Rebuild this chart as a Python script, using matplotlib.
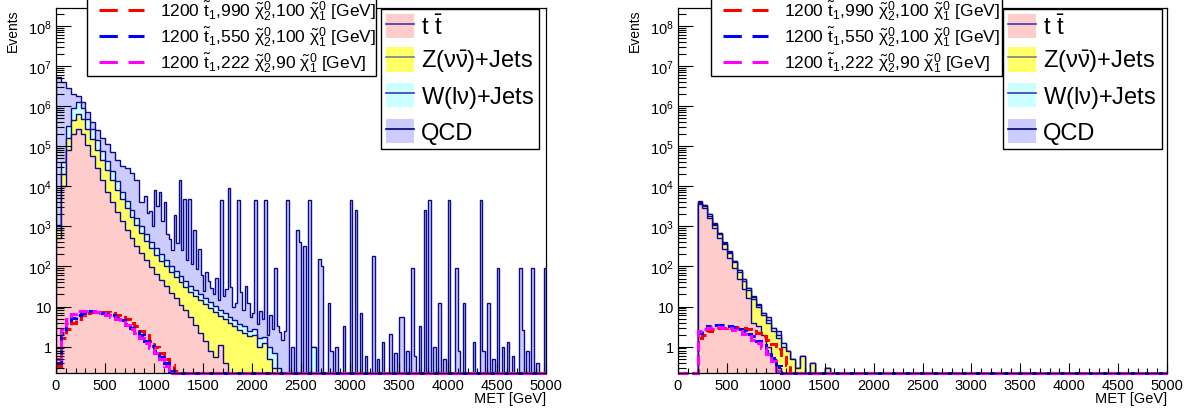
import numpy as np
import matplotlib
matplotlib.use('Agg')
import matplotlib.pyplot as plt
from matplotlib.patches import Patch
from matplotlib.lines import Line2D
from matplotlib.ticker import FixedLocator, LogLocator, MultipleLocator, NullFormatter, FuncFormatter

plt.rcParams['font.family'] = ['Liberation Sans', 'DejaVu Sans']
plt.rcParams['mathtext.fontset'] = 'custom'
plt.rcParams['mathtext.rm'] = 'Liberation Sans'
plt.rcParams['mathtext.it'] = 'Liberation Sans'
plt.rcParams['mathtext.bf'] = 'Liberation Sans:bold'
plt.rcParams['mathtext.sf'] = 'Liberation Sans'

# drawing grid: 200 bins of 25 GeV; smooth samples are given per 50 GeV
edges = np.arange(0, 5001, 25)
nbins = len(edges) - 1

# ---------------- left panel (no MET cut), 50 GeV steps from 0 ----------------
ttbar_L = [500, 1.0e4, 8.0e4, 2.0e5, 2.7e5, 2.0e5, 1.05e5, 5.6e4, 2.8e4, 1.4e4,
           7.4e3, 4.0e3, 2.3e3, 1.4e3, 830, 520, 330, 220, 145, 95,
           66, 46, 32, 22, 16, 11, 8.0, 5.6, 3.5, 2.2,
           1.4, 0.8, 0.56, 1.1, 0.4]
zjets_L = [290, 1.0e4, 7.9e4, 2.5e5, 3.8e5, 2.8e5, 1.6e5, 9.2e4, 5.3e4, 3.1e4,
           1.77e4, 1.05e4, 6.0e3, 3.4e3, 2.05e3, 1.2e3, 770, 470, 290, 187,
           129, 92, 68, 50, 38, 30, 23, 18, 15, 12.6,
           10.3, 8.5, 6.9, 4.8, 4.4, 4.0, 3.2, 2.6, 2.2, 1.8,
           2.0, 1.0, 1.26, 0.5, 0.3]
wjets_L = [300, 2.0e4, 1.6e5, 4.4e5, 6.1e5, 4.1e5, 2.2e5, 1.15e5, 6.0e4, 3.1e4,
           1.7e4, 8.9e3, 4.9e3, 2.6e3, 1.5e3, 890, 520, 310, 194, 135,
           87, 62, 41, 30, 22, 16.5, 12.7, 9.9, 7.7, 6.1,
           4.9, 3.9, 3.1, 2.4, 2.0, 1.6, 1.3, 1.1, 1.0, 0.7,
           0.8, 0.6, 0.5, 0.5, 0.4, 0.3, 0, 0, 0, 0,
           0, 0, 1.0]
qcd_L = [5.4e6, 3.96e6, 2.5e6, 1.1e6, 5.2e5, 3.7e5, 2.3e5, 1.37e5, 1.1e5, 8.2e4,
         7.0e4, 4.8e4, 3.2e4, 2.4e4, 2.4e4, 1.9e4, 1.25e4, 3.0e3]
# heavily weighted QCD events above 900 GeV (25 GeV bins)
qcd_L_spike_met = [900, 925, 950, 975, 1000, 1025, 1050, 1075, 1100, 1125,
                   1150, 1175, 1200, 1225, 1250, 1275, 1300, 1325, 1350, 1375,
                   1400, 1425, 1450, 1475, 1500, 1525, 1550, 1575, 1600, 1625,
                   1650, 1675, 1700, 1725, 1750, 1775, 1800, 1825, 1850, 1875,
                   1900, 1925, 1950, 1975, 2000, 2025, 2050, 2075, 2100, 2125,
                   2150, 2175, 2200, 2225, 2250, 2275, 2300, 2325, 2350, 2400,
                   2450, 2475, 2525, 2575, 2675, 2700, 2775, 2800,
                   2850, 2925, 3000, 3050, 3100, 3150, 3225, 3275, 3325, 3400,
                   3450, 3500, 3525, 3575, 3625, 3650, 3700, 3750, 3800, 3850,
                   3900, 3950, 4000, 4075, 4100, 4150, 4250, 4325, 4350, 4400,
                   4450, 4500, 4550, 4600, 4650, 4725, 4750, 4800, 4850, 4900,
                   4975]
qcd_L_spike_val = [5000, 1500, 2000, 600, 7600, 3000, 6800, 1200, 3900, 500,
                   370, 150, 1900, 300, 14700, 200, 4650, 100, 4650, 80,
                   800, 60, 250, 40, 8, 56, 30, 15, 10, 40,
                   6, 4650, 12, 20, 9100, 25, 5, 8, 4650, 20,
                   5, 30, 10, 3, 4, 4650, 2, 6, 3, 4650,
                   1, 5, 2, 90, 3, 2, 1.5, 2.5, 4650, 1,
                   790, 400, 320, 4650, 150, 100, 12, 0.8,
                   1.0, 3.2, 4650, 2600, 7, 0.6, 180, 0.5, 1.3, 2.1,
                   0.7, 5.6, 5.6, 0.8, 90, 0.6, 3.2, 2600, 4650, 1.0,
                   12, 0.5, 4650, 90, 0.8, 12, 1.3, 4650, 0.8, 12,
                   0.5, 90, 1.0, 1.3, 0.6, 90, 2.6, 0.8, 90, 0.4,
                   90]
sig990_L = [0.32, 1.6, 2.8, 4.0, 5.0, 6.0, 6.8, 7.2, 7.4, 7.4,
            7.2, 6.8, 6.2, 5.5, 4.8, 4.0, 3.2, 2.5, 1.9, 1.4,
            1.0, 0.71, 0.5, 0.35, 0.25, 0.16]
sig550_L = [0.4, 2.2, 4.0, 5.2, 6.3, 7.1, 7.6, 7.6, 7.4, 7.1,
            6.6, 6.0, 5.2, 4.5, 3.7, 3.0, 2.4, 1.9, 1.4, 1.05,
            0.76, 0.54, 0.38, 0.25, 0.16]
sig222_L = [0.5, 2.8, 5.0, 6.6, 7.6, 7.9, 7.9, 7.6, 7.2, 6.8,
            6.2, 5.5, 4.8, 4.1, 3.4, 2.75, 2.2, 1.66, 1.26, 0.93,
            0.68, 0.48, 0.33, 0.22, 0.14]

# ---------------- right panel (MET > 200 GeV), 50 GeV steps from 200 GeV ----------------
start_R = 200
ttbar_R = [3550, 2800, 1580, 890, 500, 280, 158, 89, 50, 28,
           16, 4.0, 3.2, 2.0, 1.0, 0.5, 0.3]
zjets_R = [250, 360, 280, 180, 130, 83, 56, 37, 24, 16,
           10, 11.8, 6.8, 4.3, 3.0, 2.0, 1.3, 1.0, 0.8, 0.5,
           0.3, 0.6, 0, 0.4, 0, 0, 0.3]
wjets_R = [300, 250, 150, 90, 55, 32, 19, 11, 7, 4,
           2.5, 1.8, 1.2, 0.8, 0.5, 0.4, 0.3, 0.2]
qcd_R = [200, 100, 50, 30, 15, 10, 5, 3, 2, 1.5,
         1.0, 0.8, 0.5, 0, 1.0, 0, 0.5]
sig990_R = [1.6, 2.0, 2.4, 2.7, 2.9, 3.0, 3.1, 3.1, 3.0, 2.9,
            2.7, 2.45, 2.2, 1.86, 1.5, 1.17, 0.85, 0.56, 0.35, 0.2]
sig550_R = [2.2, 2.8, 3.2, 3.4, 3.5, 3.5, 3.3, 3.1, 2.8, 2.5,
            2.1, 1.8, 1.4, 1.07, 0.8, 0.52, 0.32, 0.18]
sig222_R = [2.5, 2.8, 3.0, 3.1, 3.1, 3.0, 2.9, 2.6, 2.4, 2.1,
            1.8, 1.5, 1.2, 0.91, 0.66, 0.45, 0.25]

bkg_labels = [r't $\bar{\mathrm{t}}$', r'Z($\nu\bar{\nu}$)+Jets', r'W(l$\nu$)+Jets', 'QCD']
sig_labels = [r'1200 $\tilde{\mathrm{t}}_{1}$,990 $\tilde{\chi}^{0}_{2}$,100 $\tilde{\chi}^{0}_{1}$ [GeV]',
              r'1200 $\tilde{\mathrm{t}}_{1}$,550 $\tilde{\chi}^{0}_{2}$,100 $\tilde{\chi}^{0}_{1}$ [GeV]',
              r'1200 $\tilde{\mathrm{t}}_{1}$,222 $\tilde{\chi}^{0}_{2}$,90 $\tilde{\chi}^{0}_{1}$ [GeV]']

fill_colors = ['#ffcccc', '#ffff66', '#ccffff', '#ccccff']
legend_lines = ['#3b3bb0', '#808080', '#3b3bb0', '#000080']
edge_color = '#0a0a8c'
sig_colors = ['#ff0000', '#0000ff', '#ff00ff']
ymin, ymax = 0.22, 2.8e8


def hist50(vals, start=0):
    # place 50 GeV samples on the 25 GeV drawing grid
    h = np.zeros(nbins)
    i0 = start // 25
    h[i0:i0 + 2 * len(vals)] = np.repeat(vals, 2)
    return h


def add_spikes(h, mets, vals):
    h = h.copy()
    for m, v in zip(mets, vals):
        h[m // 25] += v
    return h


def draw_panel(ax, comps, sigs):
    stack = np.cumsum(np.array(comps), axis=0)
    # THStack style: largest sum first, each filled from the bottom
    for k in range(len(comps) - 1, -1, -1):
        top = np.where(stack[k] > 0, stack[k], 1e-3)
        ax.stairs(top, edges, baseline=1e-3, fill=True, color=fill_colors[k], lw=0)
        ax.stairs(top, edges, baseline=1e-3, color=edge_color, lw=1.0)
    for s, c in zip(sigs, sig_colors):
        ax.stairs(np.maximum(s, ymin), edges, baseline=None, color=c, lw=2.2,
                  ls=(0, (3.2, 1.4)), clip_on=False)

    ax.set_yscale('log')
    ax.set_xlim(0, 5000)
    ax.set_ylim(ymin, ymax)
    decades = [1, 10, 1e2, 1e3, 1e4, 1e5, 1e6, 1e7, 1e8]
    ax.yaxis.set_major_locator(FixedLocator(decades))

    def fmt(v, pos):
        e = int(round(np.log10(v)))
        if e == 0:
            return '1'
        if e == 1:
            return '10'
        return r'$\mathregular{10^{%d}}$' % e
    ax.yaxis.set_major_formatter(FuncFormatter(fmt))
    ax.yaxis.set_minor_locator(LogLocator(base=10, subs=np.arange(2, 10), numticks=30))
    ax.yaxis.set_minor_formatter(NullFormatter())
    ax.xaxis.set_major_locator(MultipleLocator(500))
    ax.xaxis.set_minor_locator(MultipleLocator(100))
    ax.tick_params(axis='both', which='both', direction='in', top=False, right=False,
                   labelsize=10.5, width=0.8, colors='black')
    ax.tick_params(axis='y', which='major', length=11, pad=3)
    ax.tick_params(axis='y', which='minor', length=5.5)
    ax.tick_params(axis='x', which='major', length=7, pad=3.5)
    ax.tick_params(axis='x', which='minor', length=3.5)
    for sp in ax.spines.values():
        sp.set_linewidth(0.9)
    ax.text(1.0, -0.068, 'MET [GeV]', transform=ax.transAxes, ha='right', va='center', fontsize=10.5)


W, H = 1193, 414
fig = plt.figure(figsize=(W / 100, H / 100), dpi=100)
ax1 = fig.add_axes([56 / W, 40 / H, 490 / W, 365 / H])
ax2 = fig.add_axes([678 / W, 40 / H, 489 / W, 365 / H])

draw_panel(ax1,
           [hist50(ttbar_L), hist50(zjets_L), hist50(wjets_L),
            add_spikes(hist50(qcd_L), qcd_L_spike_met, qcd_L_spike_val)],
           [hist50(sig990_L), hist50(sig550_L), hist50(sig222_L)])
draw_panel(ax2,
           [hist50(ttbar_R, start_R), hist50(zjets_R, start_R),
            hist50(wjets_R, start_R), hist50(qcd_R, start_R)],
           [hist50(sig990_R, start_R), hist50(sig550_R, start_R), hist50(sig222_R, start_R)])

bkg_handles = [(Patch(facecolor=fc, edgecolor='none'), Line2D([], [], color=lc, lw=1.2))
               for fc, lc in zip(fill_colors, legend_lines)]
sig_handles = [Line2D([], [], color=c, lw=2.2, ls=(6.23, (6, 3.5))) for c in sig_colors]

for ax_left, sig_x0, sig_x1, bkg_x0, bkg_x1 in [(56, 87, 376, 381, 539), (678, 711, 1002, 1003, 1162)]:
    fig.text((ax_left - 43) / W, 1 - 9 / H, 'Events', rotation=90, ha='center', va='top', fontsize=10)
    fig.legend(sig_handles, sig_labels, loc='lower left',
               bbox_to_anchor=(sig_x0 / W, 1 - 77 / H, (sig_x1 - sig_x0) / W, 0.1),
               mode='expand', borderaxespad=0, fontsize=12.5, handlelength=3.2,
               labelspacing=0.12, borderpad=0.1, handletextpad=0.92,
               fancybox=False, framealpha=1, edgecolor='black')
    fig.legend(bkg_handles, bkg_labels, loc='lower left',
               bbox_to_anchor=(bkg_x0 / W, 1 - 150 / H, (bkg_x1 - bkg_x0) / W, 0.1),
               mode='expand', borderaxespad=0, fontsize=17, handlelength=1.19,
               handleheight=1.2, labelspacing=0.37, borderpad=0.21, handletextpad=0.3,
               fancybox=False, framealpha=1, edgecolor='black')

fig.savefig('out.png', dpi=100)
